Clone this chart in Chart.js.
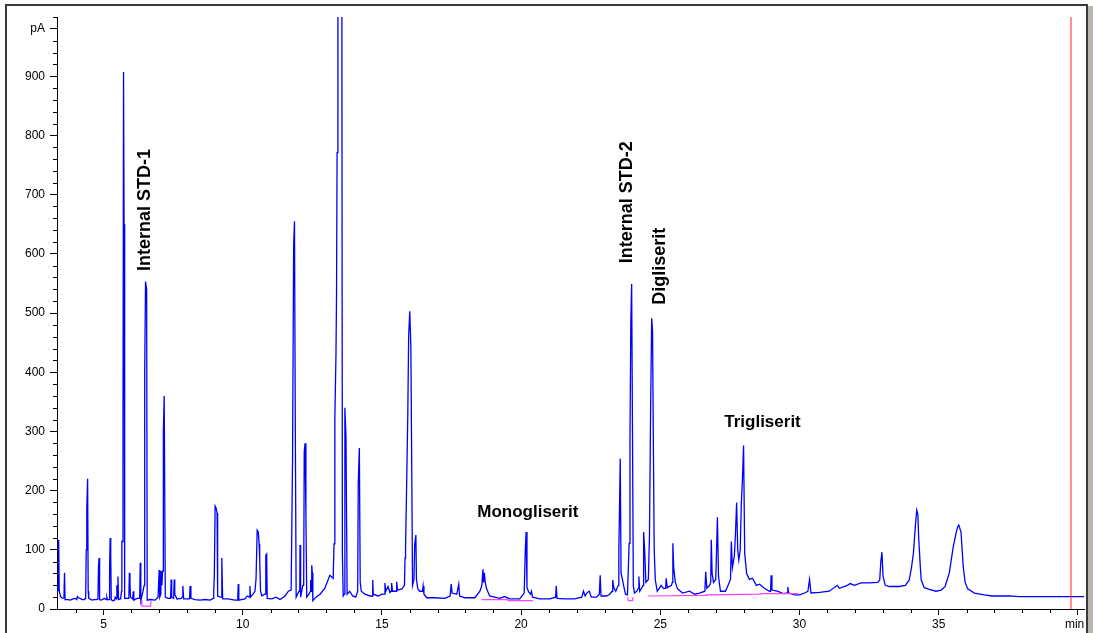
<!DOCTYPE html>
<html>
<head>
<meta charset="utf-8">
<title>FID1 A</title>
<script src="https://cdn.jsdelivr.net/npm/chart.js@4.4.1/dist/chart.umd.min.js"></script>
<style>
  html, body { margin: 0; padding: 0; background: #fff; }
  #wrap { width: 1093px; height: 633px; }
</style>
</head>
<body>
<div id="wrap"><canvas id="fidChart" width="1093" height="633"></canvas></div>
<script>
// Retention time (min) and detector signal (pA)
const traceTime = [
  3.33, 3.36, 3.38, 3.39, 3.41, 3.46, 3.52, 3.58, 3.60, 3.62, 3.72, 3.81, 3.90, 3.98, 4.04, 4.06, 4.10, 4.16, 4.24, 4.31,
  4.36, 4.38, 4.40, 4.43, 4.45, 4.47, 4.59, 4.66, 4.74, 4.80, 4.82, 4.84, 4.86, 4.88, 4.96, 5.03, 5.10, 5.12, 5.14, 5.20,
  5.22, 5.24, 5.26, 5.28, 5.32, 5.40, 5.42, 5.46, 5.48, 5.50, 5.52, 5.54, 5.60, 5.62, 5.65, 5.66, 5.69, 5.70, 5.72, 5.74,
  5.76, 5.85, 5.91, 5.93, 5.95, 5.97, 6.05, 6.07, 6.09, 6.21, 6.30, 6.32, 6.34, 6.42, 6.46, 6.47, 6.49, 6.51, 6.55, 6.57,
  6.68, 6.85, 6.96, 6.98, 7.00, 7.02, 7.06, 7.07, 7.10, 7.12, 7.14, 7.15, 7.18, 7.20, 7.22, 7.32, 7.41, 7.43, 7.45, 7.52,
  7.54, 7.56, 7.64, 7.79, 7.83, 7.85, 7.88, 8.09, 8.11, 8.14, 8.29, 8.47, 8.65, 8.83, 8.94, 8.96, 8.98, 9.01, 9.05, 9.08,
  9.10, 9.20, 9.23, 9.25, 9.28, 9.47, 9.72, 9.82, 9.84, 9.86, 10.08, 10.16, 10.24, 10.26, 10.28, 10.37, 10.44, 10.48, 10.52, 10.56,
  10.59, 10.61, 10.64, 10.69, 10.78, 10.81, 10.83, 10.86, 10.88, 11.05, 11.20, 11.34, 11.52, 11.64, 11.74, 11.79, 11.83, 11.86, 11.89, 11.92,
  12.02, 12.05, 12.06, 12.08, 12.16, 12.19, 12.21, 12.24, 12.27, 12.30, 12.38, 12.43, 12.44, 12.46, 12.48, 12.50, 12.52, 12.63, 12.78, 12.95,
  13.13, 13.25, 13.28, 13.31, 13.35, 13.37, 13.39, 13.42, 13.56, 13.58, 13.61, 13.65, 13.67, 13.71, 13.75, 13.84, 13.95, 14.06, 14.13, 14.15,
  14.19, 14.22, 14.26, 14.39, 14.57, 14.65, 14.67, 14.69, 14.86, 15.00, 15.09, 15.11, 15.14, 15.22, 15.29, 15.33, 15.35, 15.38, 15.51, 15.53,
  15.56, 15.72, 15.81, 15.83, 15.85, 15.89, 15.93, 15.96, 16.00, 16.04, 16.07, 16.10, 16.15, 16.18, 16.22, 16.24, 16.29, 16.36, 16.46, 16.48,
  16.51, 16.61, 16.90, 17.26, 17.45, 17.49, 17.52, 17.69, 17.76, 17.79, 17.98, 18.34, 18.52, 18.59, 18.63, 18.65, 18.68, 18.71, 18.76, 18.87,
  19.05, 19.23, 19.41, 19.59, 19.95, 20.11, 20.15, 20.18, 20.21, 20.27, 20.34, 20.37, 20.41, 20.67, 21.03, 21.24, 21.26, 21.29, 21.57, 21.92,
  22.18, 22.24, 22.30, 22.38, 22.45, 22.52, 22.71, 22.81, 22.84, 22.87, 23.07, 23.18, 23.27, 23.29, 23.33, 23.40, 23.49, 23.51, 23.53, 23.56,
  23.59, 23.63, 23.68, 23.75, 23.82, 23.88, 23.91, 23.94, 23.97, 24.00, 24.03, 24.07, 24.15, 24.21, 24.23, 24.26, 24.33, 24.38, 24.40, 24.44,
  24.48, 24.57, 24.61, 24.65, 24.69, 24.72, 24.75, 24.78, 24.82, 24.89, 25.03, 25.11, 25.19, 25.21, 25.25, 25.40, 25.43, 25.45, 25.48, 25.54,
  25.62, 25.80, 26.05, 26.23, 26.41, 26.60, 26.63, 26.67, 26.77, 26.81, 26.83, 26.86, 26.91, 26.99, 27.01, 27.05, 27.09, 27.16, 27.34, 27.48,
  27.52, 27.55, 27.59, 27.66, 27.70, 27.74, 27.78, 27.82, 27.87, 27.91, 27.95, 27.99, 28.03, 28.10, 28.20, 28.31, 28.45, 28.56, 28.74, 28.92,
  28.96, 28.98, 29.01, 29.20, 29.42, 29.56, 29.58, 29.61, 29.82, 30.00, 30.18, 30.30, 30.36, 30.41, 30.72, 31.07, 31.36, 31.43, 31.72, 31.82,
  31.97, 32.21, 32.51, 32.80, 32.88, 32.92, 32.96, 33.00, 33.08, 33.23, 33.58, 33.80, 33.94, 34.02, 34.09, 34.16, 34.21, 34.25, 34.28, 34.34,
  34.37, 34.48, 34.66, 34.90, 35.09, 35.23, 35.38, 35.52, 35.63, 35.68, 35.72, 35.80, 35.88, 35.95, 36.04, 36.28, 36.64, 36.92, 37.17, 37.53,
  37.89, 38.61, 39.32, 40.22
];
const traceSignal = [
  38, 30, 35, 117, 30, 21, 18, 19, 61, 16, 16, 15, 17, 18, 16, 21, 19, 18, 16, 16,
  18, 100, 170, 220, 30, 18, 15, 16, 16, 17, 71, 86, 16, 15, 16, 18, 16, 20, 16, 16,
  70, 120, 90, 16, 14, 15, 20, 17, 40, 20, 55, 16, 17, 20, 30, 114, 114, 300, 907, 650,
  18, 18, 18, 61, 45, 20, 17, 30, 15, 18, 18, 78, 14, 30, 40, 91, 400, 553, 540, 15,
  16, 15, 20, 20, 66, 20, 25, 64, 40, 64, 64, 300, 360, 360, 20, 18, 18, 50, 20, 18,
  50, 25, 17, 18, 20, 39, 17, 17, 39, 18, 16, 15, 16, 15, 18, 30, 55, 174, 170, 162,
  22, 20, 20, 86, 17, 17, 15, 15, 42, 15, 17, 22, 20, 39, 20, 25, 30, 52, 133, 130,
  110, 86, 30, 22, 25, 25, 91, 93, 18, 17, 20, 16, 22, 30, 32, 252, 615, 655, 300, 20,
  30, 30, 108, 20, 40, 40, 265, 280, 160, 20, 25, 30, 49, 30, 74, 61, 14, 20, 25, 35,
  57, 52, 110, 323, 430, 530, 771, 1100, 1100, 93, 22, 25, 340, 290, 25, 30, 22, 20, 30, 211,
  272, 45, 30, 25, 22, 22, 49, 25, 22, 25, 25, 44, 30, 38, 28, 30, 44, 30, 30, 46,
  32, 34, 40, 86, 105, 215, 330, 460, 503, 442, 248, 40, 50, 110, 125, 50, 34, 30, 30, 39,
  25, 19, 19, 18, 22, 42, 27, 25, 42, 22, 19, 19, 30, 40, 67, 45, 61, 45, 34, 22,
  20, 18, 21, 17, 17, 27, 100, 130, 36, 29, 25, 30, 20, 17, 17, 20, 39, 18, 17, 17,
  20, 30, 22, 28, 30, 20, 20, 25, 57, 22, 22, 25, 30, 49, 36, 30, 40, 100, 156, 254,
  60, 52, 40, 25, 24, 111, 285, 483, 549, 300, 40, 27, 30, 35, 55, 30, 35, 40, 130, 97,
  45, 50, 122, 331, 491, 470, 280, 100, 49, 30, 40, 35, 35, 52, 36, 40, 45, 111, 70, 45,
  34, 27, 30, 25, 27, 30, 63, 35, 40, 45, 117, 60, 45, 50, 80, 155, 55, 30, 30, 45,
  50, 114, 70, 90, 128, 180, 100, 83, 100, 179, 220, 276, 94, 60, 50, 52, 40, 42, 35, 30,
  30, 57, 32, 30, 26, 27, 37, 27, 24, 24, 27, 30, 50, 27, 28, 30, 40, 35, 40, 43,
  40, 44, 44, 45, 49, 80, 96, 55, 40, 38, 38, 40, 49, 70, 94, 140, 167, 160, 120, 70,
  49, 36, 33, 30, 32, 38, 61, 105, 130, 139, 142, 130, 71, 45, 34, 27, 24, 22, 22, 22,
  21, 21, 21, 21
];

// integration baselines (magenta), null = gap
const baseTime = [6.36, 6.38, 6.69, 6.71, null, 18.58, 19.53, 19.53, 20.43, null, 23.83, 23.85, 24.00, 24.02, null,
  24.56, 26.65, 26.65, 28.62, 28.62, 29.94];
const baseSignal = [15, 5, 5, 13, null, 16, 16, 14, 14, null, 20, 14, 14, 20, null,
  22, 23, 24, 25, 26, 26];

// end of run marker
const stopTime = 39.75;

// axis ticks
const yTicks = [0, 100, 200, 300, 400, 500, 600, 700, 800, 900, 980];
const xTicks = [5, 10, 15, 20, 25, 30, 35, 40];

const peakLabels = [
  { text: 'Internal STD-1', t: 6.50, v: 674, vertical: true },
  { text: 'Internal STD-2', t: 23.79, v: 687, vertical: true },
  { text: 'Digliserit', t: 25.00, v: 579, vertical: true },
  { text: 'Monogliserit', t: 20.24, v: 164, vertical: false },
  { text: 'Trigliserit', t: 28.67, v: 316, vertical: false }
];

const FONT = '"Liberation Sans", Arial, sans-serif';

// white page, window frame, minor ticks, peak names
const decorPlugin = {
  id: 'decor',
  beforeDraw(chart) {
    const ctx = chart.ctx;
    ctx.save();
    ctx.fillStyle = '#fff';
    ctx.fillRect(0, 0, chart.width, chart.height);
    ctx.restore();
  },
  afterDraw(chart) {
    const ctx = chart.ctx;
    const xs = chart.scales.x;
    const ys = chart.scales.y;
    ctx.save();

    // minor ticks
    ctx.strokeStyle = '#000';
    ctx.lineWidth = 1;
    ctx.beginPath();
    for (let v = 20; v <= 1000; v += 20) {
      if ((v % 100 === 0 && v !== 1000) || v === 980) continue;
      const py = Math.round(ys.getPixelForValue(v)) + 0.5;
      ctx.moveTo(ys.right - 4, py);
      ctx.lineTo(ys.right, py);
    }
    for (let t = 4; t <= 40; t++) {
      if (t % 5 === 0) continue;
      const px = Math.round(xs.getPixelForValue(t)) + 0.5;
      ctx.moveTo(px, xs.top);
      ctx.lineTo(px, xs.top + 4);
    }
    ctx.stroke();

    // peak names
    ctx.fillStyle = '#000';
    ctx.textAlign = 'center';
    ctx.textBaseline = 'middle';
    peakLabels.forEach(l => {
      const px = xs.getPixelForValue(l.t);
      const py = ys.getPixelForValue(l.v);
      ctx.save();
      ctx.translate(px, py);
      if (l.vertical) {
        ctx.rotate(-Math.PI / 2);
        ctx.font = 'bold 18px ' + FONT;
      } else {
        ctx.font = 'bold 17px ' + FONT;
      }
      ctx.fillText(l.text, 0, 0);
      ctx.restore();
    });

    // window frame
    ctx.strokeStyle = '#3a3a3a';
    ctx.lineWidth = 2;
    ctx.beginPath();
    ctx.moveTo(6, chart.height);
    ctx.lineTo(6, 5);
    ctx.lineTo(1087, 5);
    ctx.lineTo(1087, chart.height);
    ctx.stroke();
    ctx.fillStyle = '#b8b8b0';
    ctx.fillRect(1088, 6, 5, chart.height - 6);
    ctx.restore();
  }
};

const ctx = document.getElementById('fidChart').getContext('2d');
const fidChart = new Chart(ctx, {
  type: 'line',
  data: {
    datasets: [
      {
        label: 'Stop',
        data: [{ x: stopTime, y: 0 }, { x: stopTime, y: 1000 }],
        borderColor: '#ff2020',
        borderWidth: 1,
        pointRadius: 0,
        order: 0
      },
      {
        label: 'Baseline',
        data: baseTime.map((t, i) => ({ x: t, y: baseSignal[i] })),
        borderColor: '#ff40ff',
        borderWidth: 1.2,
        pointRadius: 0,
        spanGaps: false,
        order: 1
      },
      {
        label: 'FID1 A',
        data: traceTime.map((t, i) => ({ x: t, y: traceSignal[i] })),
        borderColor: '#0000ff',
        borderWidth: 1.3,
        pointRadius: 0,
        tension: 0,
        order: 2
      }
    ]
  },
  options: {
    responsive: false,
    animation: false,
    layout: { padding: { top: 17, right: 8, left: 0, bottom: 0 } },
    plugins: {
      legend: { display: false },
      tooltip: { enabled: false }
    },
    scales: {
      x: {
        type: 'linear',
        min: 3.33,
        max: 40.22,
        afterFit: s => { s.height = 24; },
        afterBuildTicks: s => { s.ticks = xTicks.map(v => ({ value: v })); },
        grid: { drawOnChartArea: false, drawTicks: true, tickLength: 6, color: '#000' },
        border: { color: '#000', width: 1 },
        ticks: {
          autoSkip: false,
          maxRotation: 0,
          padding: 2,
          color: '#000',
          font: { family: FONT, size: 12 },
          callback: v => (v === 40 ? 'min  ' : v)
        }
      },
      y: {
        min: 0,
        max: 1000,
        afterFit: s => { s.width = 57; },
        afterBuildTicks: s => { s.ticks = yTicks.map(v => ({ value: v })); },
        grid: { drawOnChartArea: false, drawTicks: true, tickLength: 7, color: '#000' },
        border: { color: '#000', width: 1 },
        ticks: {
          autoSkip: false,
          padding: 5,
          color: '#000',
          font: { family: FONT, size: 12 },
          callback: v => (v === 980 ? 'pA' : v)
        }
      }
    }
  },
  plugins: [decorPlugin]
});
</script>
</body>
</html>
